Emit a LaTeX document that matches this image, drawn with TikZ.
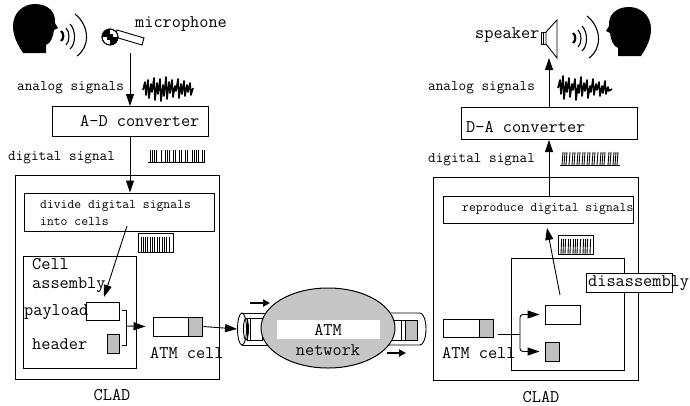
\documentclass[tikz,border=0pt]{standalone}
\usepackage{fontspec}
\usetikzlibrary{arrows.meta,shapes.geometric}
\begin{document}
\begin{tikzpicture}[x=1pt,y=-1pt,
  big/.style={font=\fontsize{17.8}{19}\selectfont\ttfamily, inner sep=0pt},
  mid/.style={font=\fontsize{14.8}{16}\selectfont\ttfamily, inner sep=0pt},
  small/.style={font=\fontsize{13.3}{15}\selectfont\ttfamily, inner sep=0pt},
  box/.style={draw, line width=1pt, inner sep=0pt},
  cellwhite/.style={draw, line width=0.9pt, fill=white, inner sep=0pt},
  cellgray/.style={draw, line width=0.9pt, fill=gray!50, inner sep=0pt},
  arr/.style={-{Triangle[length=12pt,width=8pt]}, line width=0.9pt},
  fat/.style={-{Triangle[length=7pt,width=7pt]}, line width=2.6pt},
  bar/.style={line width=0.9pt},
  head/.pic={
    \fill (-12,25) .. controls (-17,17) and (-22,9) .. (-22,-2)
      .. controls (-22,-15) and (-12,-24) .. (0,-24)
      .. controls (13,-24) and (21,-16) .. (20,-5) -- (23,0) -- (19,2)
      .. controls (18,9) and (16,15) .. (11,17) -- (11,25) -- cycle;
  },
  waves/.pic={
    \draw[line width=2.2pt] (0,-4) .. controls (3,-2) and (3,4) .. (0,6);
    \draw[line width=1.1pt] (5,-7) .. controls (9,-3) and (9,6) .. (5,10);
    \draw[line width=1.1pt] (9,-11) .. controls (15,-5) and (15,9) .. (9,14);
    \draw[line width=1.1pt] (14,-21) .. controls (29,-9) and (29,12) .. (16,21);
  },
]
\useasboundingbox (0,0) rectangle (690,405);
\fill[white] (0,0) rectangle (690,405);

% ---------- sending side: speaker's head, microphone ----------
\pic at (35,28) {head};
\pic at (61,35) {waves};
\draw[line width=0.9pt, fill=white] (117,30) -- (144,38) -- (142,45) -- (115,37) -- cycle;
\draw[line width=0.9pt, fill=white] (110,37) circle[radius=8pt];
\begin{scope}
  \clip (110,37) circle[radius=8pt];
  \fill (102,29) rectangle (110,37);
  \fill (110,37) rectangle (118,45);
  \fill[white] (110,37) circle[radius=3pt];
  \fill (107,34) rectangle (113,40);
\end{scope}
\draw[line width=0.9pt] (110,37) circle[radius=8pt];
\node[big, anchor=west] (miclbl) at (135,24) {microphone};
\coordinate (mic) at (130,53);

\node[mid, anchor=west] at (17,88) {analog signals};
\draw[line width=1.6pt, line join=round]
  (143,90) -- (145,82) -- (146,95) -- (148,80) -- (149,98) -- (151,84) -- (152,92) -- (154,78)
  -- (155,100) -- (157,83) -- (158,94) -- (160,79) -- (161,101) -- (163,85) -- (164,96) -- (166,77)
  -- (167,99) -- (169,82) -- (170,93) -- (172,80) -- (173,97) -- (175,86) -- (176,91) -- (178,79)
  -- (179,98) -- (181,84) -- (182,94) -- (184,81) -- (185,96) -- (187,85) -- (188,92) -- (190,83)
  -- (191,95) -- (193,88);

% A-D converter
\node[box, minimum width=156pt, minimum height=30pt] (ad) at (130,121.5) {};
\node[big, anchor=west] at (80,121) {A-D converter};
\draw[arr] (mic) -- (ad.north);

\node[mid, anchor=west] at (8,158) {digital signal};
\draw[bar] (148,162) -- (205,162);
\foreach \x in {150,152,154,156,161,165,167,169,173,175,179,181,185,187,192,194,196,198,202,204}
  \draw[bar] (\x,150) -- (\x,162);

% left CLAD
\node[box, minimum width=204pt, minimum height=204pt] (lclad) at (117,277) {};
\node[big] at (112,395) {CLAD};
\node[box, minimum width=190pt, minimum height=38pt] (dv) at (119,212) {};
\node[small, anchor=west] at (40,206) {divide digital signals};
\node[small, anchor=west] at (40,221) {into cells};
\draw[arr] (ad.south) -- (ad.south |- dv.north);

\node[box, minimum width=35pt, minimum height=19pt] (lpb) at (155.5,242.5) {};
\foreach \x in {141,143,145,147,150,152,154,157,159,162,164,166,169}
  \draw[bar] (\x,237) -- (\x,252);

\node[box, minimum width=113pt, minimum height=112pt] (asm) at (79.5,312) {};
\node[big, anchor=west] at (32,264) {Cell};
\node[big, anchor=west] at (32,285) {assembly};
\node[big, anchor=west] at (24,312) {payload};
\node[big, anchor=west] at (32,344) {header};
\node[cellwhite, minimum width=33pt, minimum height=18pt, fill=none] (pay) at (102.5,311) {};
\node[cellgray, minimum width=12pt, minimum height=19pt] (hdr) at (113,343.5) {};
\coordinate (dvout) at (127,226);
\coordinate (asmin) at (104,297);
\draw[arr] (dvout) -- (asmin);
\draw[line width=0.9pt] (122,310) -- (126,310) -- (126,345) -- (122,345);
\coordinate (brk) at (126,326);

\node[cellwhite, minimum width=35pt, minimum height=19pt] (lcw) at (170.5,326.5) {};
\node[cellgray, minimum width=14pt, minimum height=19pt, anchor=west] (lcg) at (lcw.east) {};
\node[big, anchor=west] at (150,353) {ATM cell};
\draw[arr] (brk) -- ([xshift=-7pt]lcw.west);

% ---------- ATM network ----------
% left tube
\fill[white] (242,313) rectangle (285,345);
\draw[line width=0.9pt] (242,313) -- (285,313) (242,345) -- (285,345);
\draw[line width=0.9pt] (247,318) rectangle (262,340);
\draw[line width=0.9pt] (250,318) -- (250,340);
\node[draw, line width=0.9pt, fill=white, ellipse, minimum width=9pt, minimum height=32pt,
      inner sep=0pt] (ltube) at (242,329) {};
\draw[line width=0.9pt] (246,329) ellipse[x radius=2.5pt, y radius=11pt];
% right tube
\fill[white] (380,313) rectangle (420,345);
\draw[line width=0.9pt] (380,313) -- (420,313) arc[start angle=90, end angle=-90, x radius=6pt, y radius=16pt] -- (380,345);
\node[cellwhite, minimum width=24pt, minimum height=20pt] (ncw) at (393,330) {};
\node[cellgray, minimum width=12pt, minimum height=20pt] (ncg) at (411,330) {};
\draw[line width=0.9pt] (401,320) -- (401,340);
% network cloud
\node[draw, line width=1pt, fill=gray!45, ellipse, minimum width=134pt, minimum height=80pt,
      inner sep=0pt] (net) at (328,328) {};
\fill[white] (277,320) rectangle (380,339);
\node[big] at (328,330) {ATM};
\node[big] at (328,350) {network};
\draw[arr] (lcg.east) -- (ltube.west);
\coordinate (fa1) at (250,303);
\coordinate (fa2) at (270,303);
\draw[fat] (fa1) -- (fa2);
\coordinate (fb1) at (387,353);
\coordinate (fb2) at (406,353);
\draw[fat] (fb1) -- (fb2);

% ---------- receiving side ----------
\pic at (573,37) {waves};
\pic[xscale=-1] at (629,31) {head};
\draw[line width=0.9pt, fill=white] (541,32) rectangle (546,44);
\draw[line width=0.9pt, fill=white] (546,32) -- (557,20) -- (557,58) -- (546,44) -- cycle;
\draw[line width=0.9pt] (543,32) -- (543,44);
\node[big, anchor=west] at (475,35) {speaker};
\coordinate (spk) at (549,58);

\node[mid, anchor=west] at (428,88) {analog signals};
\draw[line width=1.6pt, line join=round]
  (558,88) -- (560,80) -- (561,94) -- (563,76) -- (564,99) -- (566,82) -- (567,92) -- (569,78)
  -- (570,97) -- (572,84) -- (573,90) -- (575,79) -- (576,100) -- (578,85) -- (579,93) -- (581,77)
  -- (582,96) -- (584,83) -- (585,91) -- (587,80) -- (588,98) -- (590,86) -- (591,92) -- (593,79)
  -- (594,95) -- (596,84) -- (597,90) -- (599,82) -- (600,96) -- (602,86) -- (603,93) -- (605,81)
  -- (606,94) -- (608,87) -- (609,91) -- (612,89);

\node[box, minimum width=176pt, minimum height=32pt] (da) at (549,123.5) {};
\node[big, anchor=west] at (466,127) {D-A converter};
\draw[arr] (da.north) -- (spk);

\node[mid, anchor=west] at (428,160) {digital signal};
\draw[bar] (560,165) -- (620,165);
\foreach \x in {562,564,566,569,572,574,577,579,582,584,587,589,592,594,597,600,602,604,608,610,613,615,617}
  \draw[bar] (\x,165) -- (\x+1,152);

% right CLAD
\node[box, minimum width=205pt, minimum height=203pt] (rclad) at (535.5,278.5) {};
\node[big] at (541,397) {CLAD};
\node[box, minimum width=190pt, minimum height=27pt] (rp) at (538,209.5) {};
\node[small, anchor=west] at (462,209) {reproduce digital signals};
\draw[arr] (rp.north -| da.north) -- (da.south);

\node[box, minimum width=35pt, minimum height=19pt] (rpb) at (575.5,244.5) {};
\foreach \x in {561,563,565,568,570,573,575,577,580,583,585,587,590}
  \draw[bar] (\x,254) -- (\x+0.6,239);

\node[box, minimum width=113pt, minimum height=112pt] (dis) at (567.5,314) {};
\node[cellwhite, minimum width=35pt, minimum height=19pt] (rpay) at (562.5,314.5) {};
\node[cellgray, minimum width=14pt, minimum height=19pt] (rhdr) at (552,351.5) {};
\coordinate (disout) at (560,295);
\coordinate (rpin) at (547,228);
\draw[arr] (disout) -- (rpin);
\fill[white] (586,273) rectangle (672,292);
\draw[line width=0.7pt] (586,273) rectangle (672,292);
\node[big, anchor=west] at (588,283) {disassembly};

\node[cellwhite, minimum width=36pt, minimum height=18pt] (rcw) at (461,328) {};
\node[cellgray, minimum width=14pt, minimum height=18pt, anchor=west] (rcg) at (rcw.east) {};
\node[big, anchor=west] at (442,353) {ATM cell};
\coordinate (split) at (520,334);
\draw[line width=0.9pt] ([xshift=4pt, yshift=-6pt]rcg.east) -- (split);
\draw[arr, rounded corners=3pt] (split) |- ([xshift=-5pt]rpay.west);
\draw[arr, rounded corners=3pt] (split) |- ([xshift=-5pt]rhdr.west);
\end{tikzpicture}
\end{document}
